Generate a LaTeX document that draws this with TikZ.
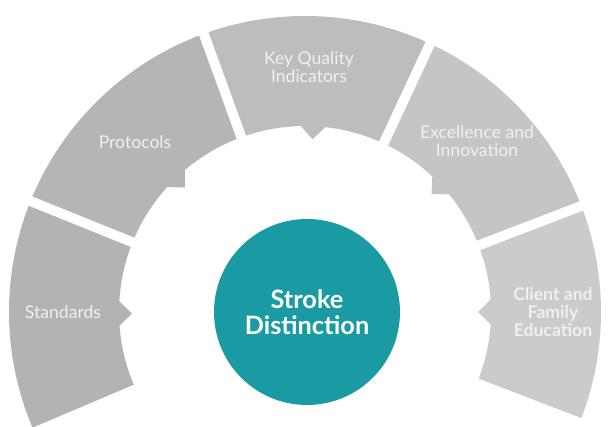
\documentclass[tikz,border=0pt]{standalone}
\usepackage{fontspec}
\setmainfont{Lato}
\definecolor{segA}{RGB}{179,179,179}
\definecolor{segB}{RGB}{181,181,181}
\definecolor{segC}{RGB}{189,189,189}
\definecolor{segD}{RGB}{197,197,197}
\definecolor{segE}{RGB}{203,203,203}
\definecolor{teal}{RGB}{26,155,163}
\definecolor{labeltext}{RGB}{240,240,240}
\newcommand{\ringseg}[3]{%
  \fill[#1] (#2:296) arc[start angle=#2, end angle=#3, radius=296]
    -- (#3:186) arc[start angle=#3, end angle={(#2+#3)/2+3.8}, radius=186]
    -- ({(#2+#3)/2}:173)
    -- ({(#2+#3)/2-3.8}:186) arc[start angle={(#2+#3)/2-3.8}, end angle=#2, radius=186]
    -- cycle;}

\begin{document}
\begin{tikzpicture}[x=0.025cm, y=0.025cm,
    seglabel/.style={text=labeltext, align=center, font=\fontsize{12.5}{13}\selectfont},
    gap/.style={white, line width=7pt}]
  \useasboundingbox (0,0) rectangle (608,427);

  \begin{scope}[shift={(305,115)}]
    \ringseg{segE}{-21}{21}
    \ringseg{segD}{21}{65}
    \ringseg{segC}{65}{110}
    \ringseg{segB}{110}{158}
    \ringseg{segA}{158}{203}

    \draw[gap] (21:160) -- (21:310);
    \draw[gap] (65:160) -- (65:310);
    \draw[gap] (110:160) -- (110:310);
    \draw[gap] (158:160) -- (158:310);

    \node[seglabel] (std) at (-242,0) {Standards};
    \node[seglabel] (prot) at (-170,170) {Protocols};
    \node[seglabel] (kqi) at (4,245) {Key Quality\\Indicators};
    \node[seglabel] (exc) at (172,171) {Excellence and\\Innovation};
    \node[seglabel, font=\fontsize{12.5}{13}\selectfont\bfseries] (cfe) at (248,0) {Client and\\Family\\Education};
  \end{scope}

  \fill[teal] (307,115) circle[radius=93];
  \node[white, align=center, font=\fontsize{18}{18.5}\selectfont\bfseries] (core) at (307,115) {Stroke\\Distinction};
\end{tikzpicture}
\end{document}
